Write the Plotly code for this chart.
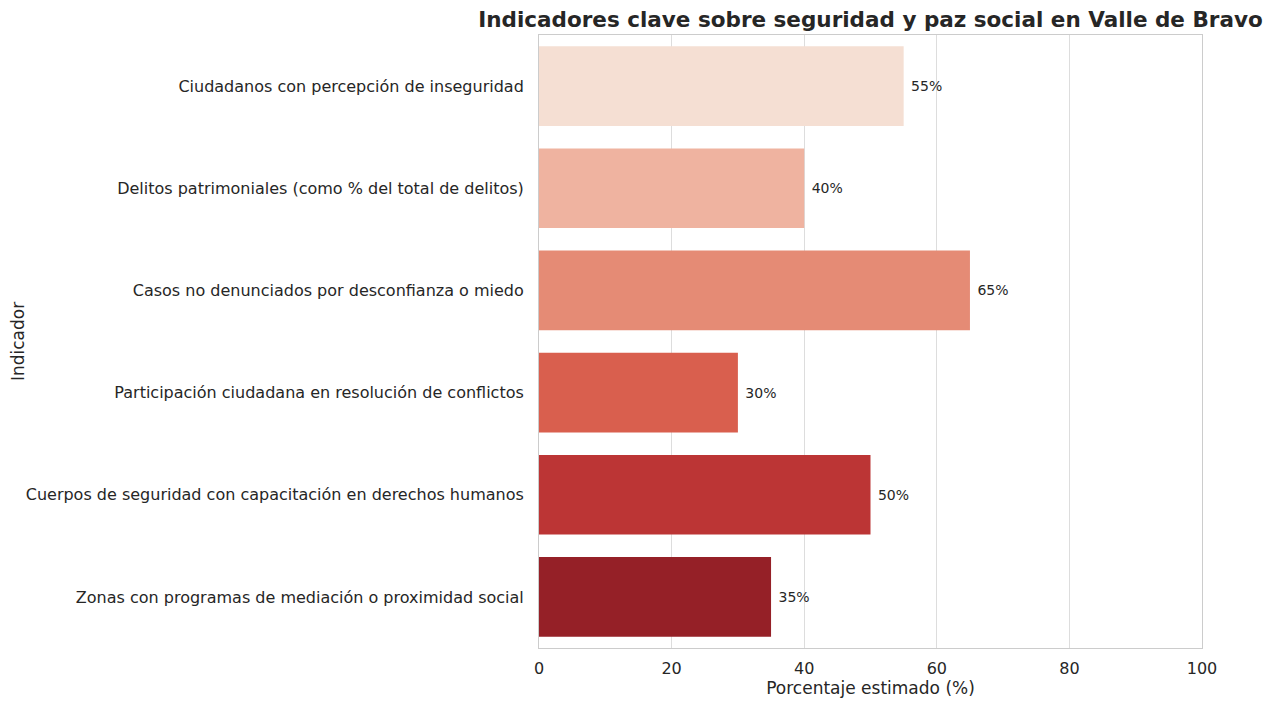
import plotly.graph_objects as go

indicadores = [
    "Ciudadanos con percepción de inseguridad",
    "Delitos patrimoniales (como % del total de delitos)",
    "Casos no denunciados por desconfianza o miedo",
    "Participación ciudadana en resolución de conflictos",
    "Cuerpos de seguridad con capacitación en derechos humanos",
    "Zonas con programas de mediación o proximidad social",
]
porcentajes = [55, 40, 65, 30, 50, 35]
colores = ["#f5dfd3", "#efb3a0", "#e58b75", "#d95f4e", "#bc3535", "#952027"]
x_ticks = [0, 20, 40, 60, 80, 100]

fig = go.Figure(go.Bar(
    x=porcentajes,
    y=indicadores,
    orientation="h",
    marker=dict(color=colores, line=dict(width=0)),
    width=0.78,
    text=[f" {v}%" for v in porcentajes],
    textposition="outside",
    textfont=dict(size=14, color="#262626"),
    cliponaxis=False,
))

# la página tiene ~8px de margen en el body, se compensa en los márgenes
fig.update_layout(
    width=1282, height=704,
    paper_bgcolor="white", plot_bgcolor="white",
    font=dict(family="DejaVu Sans", color="#262626", size=16),
    margin=dict(l=531, r=88, t=27, b=64),
    showlegend=False,
    title=dict(
        text="<b>Indicadores clave sobre seguridad y paz social en Valle de Bravo</b>",
        x=(531 + 1194) / 2 / 1282, xanchor="center",
        y=1 - 11 / 704, yanchor="middle",
        font=dict(size=21.5, color="#262626"),
    ),
)
fig.update_xaxes(
    range=[0, 100], tickvals=x_ticks,
    showgrid=True, gridcolor="#dddddd", gridwidth=1,
    zeroline=False, automargin=False,
    showline=True, linecolor="#cccccc", mirror=True,
    ticks="", tickfont=dict(size=16), ticklabelstandoff=6,
    title=dict(text="Porcentaje estimado (%)", font=dict(size=17), standoff=4),
)
fig.update_yaxes(
    categoryorder="array", categoryarray=indicadores, autorange="reversed",
    showgrid=False, zeroline=False, automargin=False,
    showline=True, linecolor="#cccccc", mirror=True,
    ticks="", tickfont=dict(size=16), ticklabelstandoff=11,
    title=dict(text="Indicador", font=dict(size=17), standoff=4),
)

fig.write_html("out.html")
